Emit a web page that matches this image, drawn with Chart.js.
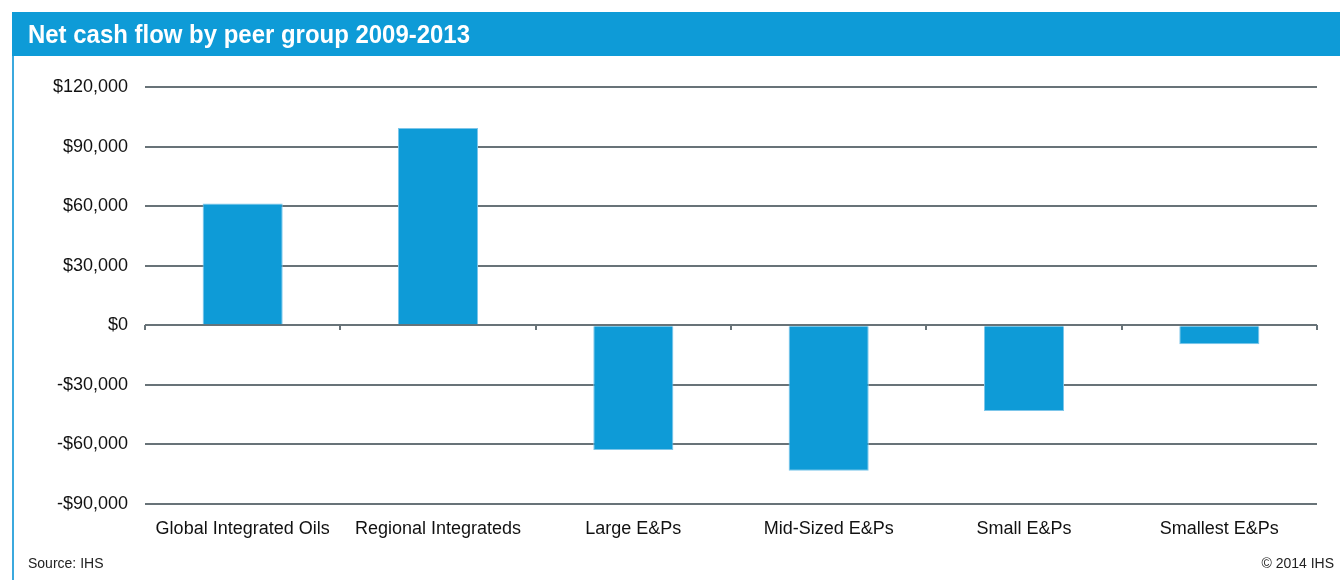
<!DOCTYPE html>
<html>
<head>
<meta charset="utf-8">
<script src="https://cdn.jsdelivr.net/npm/chart.js@4/dist/chart.umd.min.js"></script>
<style>
  html, body { margin: 0; padding: 0; background: #fff; }
  #wrap { position: relative; width: 1340px; height: 580px; }
  canvas { position: absolute; left: 0; top: 0; }
</style>
</head>
<body>
<div id="wrap"><canvas id="cashChart" width="1340" height="580"></canvas></div>
<script>
// data
const categories = ['Global Integrated Oils', 'Regional Integrateds', 'Large E&Ps', 'Mid-Sized E&Ps', 'Small E&Ps', 'Smallest E&Ps'];
const netCashFlow = [61300, 99400, -62800, -73300, -43200, -9500];
const yTicks = [-90000, -60000, -30000, 0, 30000, 60000, 90000, 120000];

const titleText = 'Net cash flow by peer group 2009-2013';
const sourceText = 'Source: IHS';
const copyText = '\u00A9 2014 IHS';

const blue = '#0E9BD7';
const gridGray = '#687378';
const fontFamily = '"Liberation Sans", Arial, sans-serif';

function fmtMoney(v) {
    const s = '$' + Math.abs(v).toLocaleString('en-US');
    return v < 0 ? '-' + s : s;
}

// header band, left rule, footer text, and little ticks on the zero line
const frame = {
    id: 'frame',
    beforeDraw(chart) {
        const ctx = chart.ctx;
        ctx.save();
        ctx.fillStyle = blue;
        ctx.fillRect(12, 12, 1328, 44);
        ctx.fillStyle = '#3BA9DE';
        ctx.fillRect(12, 56, 2, 524);
        ctx.fillStyle = '#fff';
        ctx.font = 'bold 25px ' + fontFamily;
        ctx.textBaseline = 'alphabetic';
        ctx.fillText(titleText, 28, 43, 442);
        ctx.fillStyle = '#222';
        ctx.font = '14px ' + fontFamily;
        ctx.fillText(sourceText, 28, 568);
        ctx.textAlign = 'right';
        ctx.fillText(copyText, 1334, 568);
        ctx.restore();
    },
    afterDatasetsDraw(chart) {
        const ctx = chart.ctx;
        const x = chart.scales.x;
        const y0 = Math.round(chart.scales.y.getPixelForValue(0));
        ctx.save();
        ctx.strokeStyle = gridGray;
        ctx.lineWidth = 2;
        ctx.beginPath();
        for (let i = 0; i <= categories.length; i++) {
            const px = Math.round(x.getPixelForValue(i - 0.5));
            ctx.moveTo(px, y0);
            ctx.lineTo(px, y0 + 5);
        }
        ctx.stroke();
        ctx.restore();
    }
};

new Chart(document.getElementById('cashChart'), {
    type: 'bar',
    data: {
        labels: categories,
        datasets: [{
            label: 'Net cash flow',
            data: netCashFlow,
            backgroundColor: blue,
            borderColor: '#7CC6EA',
            borderWidth: 1,
            barPercentage: 0.41,
            categoryPercentage: 1
        }]
    },
    options: {
        responsive: false,
        animation: false,
        layout: { padding: { top: 87, right: 23, bottom: 36, left: 0 } },
        plugins: {
            legend: { display: false },
            tooltip: { enabled: false }
        },
        scales: {
            x: {
                grid: { display: false },
                border: { display: false },
                ticks: {
                    color: '#111',
                    padding: 6,
                    maxRotation: 0,
                    autoSkip: false,
                    font: { family: fontFamily, size: 18 }
                },
                afterFit(scale) { scale.height = 40; }
            },
            y: {
                min: -90000,
                max: 120000,
                afterBuildTicks(scale) { scale.ticks = yTicks.map(v => ({ value: v })); },
                grid: { color: gridGray, lineWidth: 2, drawTicks: false },
                border: { display: false },
                ticks: {
                    color: '#111',
                    padding: 17,
                    font: { family: fontFamily, size: 18 },
                    callback: v => fmtMoney(v)
                },
                afterFit(scale) { scale.width = 145; }
            }
        }
    },
    plugins: [frame]
});
</script>
</body>
</html>
